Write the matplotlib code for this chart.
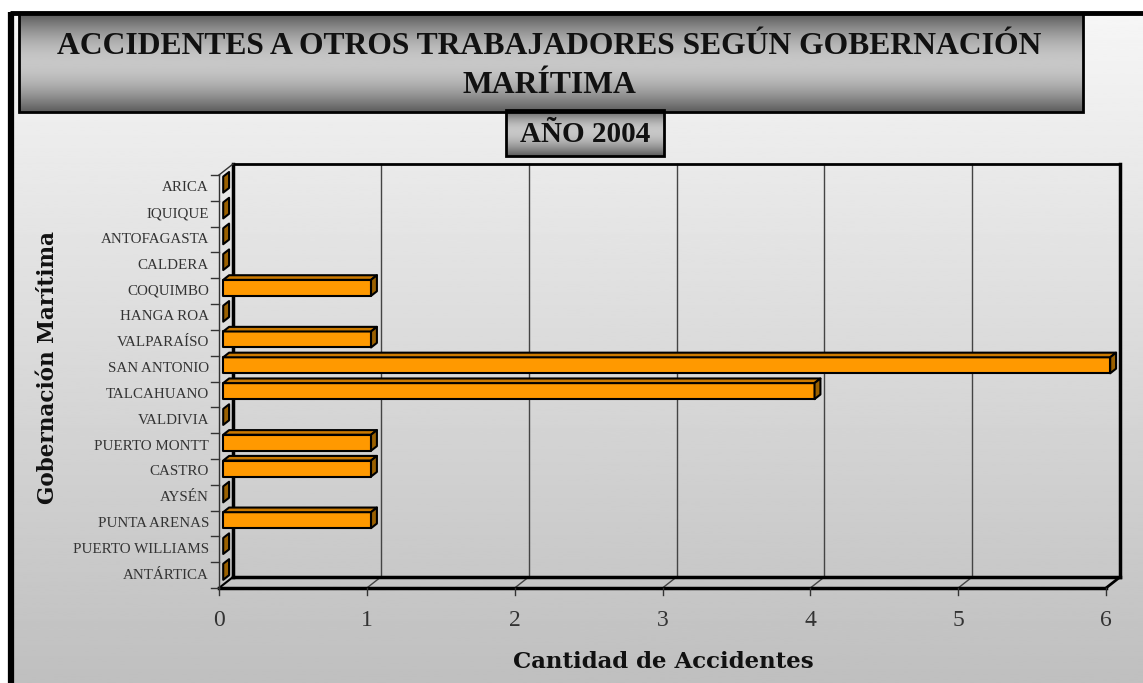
import numpy as np
import matplotlib
matplotlib.use("Agg")
import matplotlib.pyplot as plt
from matplotlib.patches import Polygon, Rectangle

# data
gobernaciones = ["ARICA", "IQUIQUE", "ANTOFAGASTA", "CALDERA", "COQUIMBO", "HANGA ROA",
                 "VALPARAÍSO", "SAN ANTONIO", "TALCAHUANO", "VALDIVIA", "PUERTO MONTT",
                 "CASTRO", "AYSÉN", "PUNTA ARENAS", "PUERTO WILLIAMS", "ANTÁRTICA"]
accidentes = [0, 0, 0, 0, 1, 0, 1, 6, 4, 0, 1, 1, 0, 1, 0, 0]
x_ticks = [0, 1, 2, 3, 4, 5, 6]

title = "ACCIDENTES A OTROS TRABAJADORES SEGÚN GOBERNACIÓN\nMARÍTIMA"
subtitle = "AÑO 2004"

W, H = 1143, 683
fig = plt.figure(figsize=(W / 100, H / 100), dpi=100)

# background / decoration axes in pixel coords
bg = fig.add_axes([0, 0, 1, 1])
bg.set_xlim(0, W)
bg.set_ylim(H, 0)
bg.axis("off")

grad = np.linspace(0.965, 0.75, 256).reshape(-1, 1)
bg.imshow(grad, cmap="gray", vmin=0, vmax=1, extent=[10, W, H, 13], aspect="auto", zorder=0)
bg.plot([10, W], [13, 13], color="black", lw=3.5, zorder=1, solid_capstyle="butt")
bg.plot([11, 11], [12, H], color="black", lw=4.5, zorder=1, solid_capstyle="butt")


def shaded_box(x0, y0, x1, y1, peak=0.4):
    t = np.linspace(0, 1, 200)
    prof = np.where(t < peak, t / peak, (1 - t) / (1 - peak))
    vals = 0.36 + (0.78 - 0.36) * np.sin(prof * np.pi / 2)
    bg.imshow(vals.reshape(-1, 1), cmap="gray", vmin=0, vmax=1,
              extent=[x0, x1, y1, y0], aspect="auto", zorder=2)
    bg.add_patch(Rectangle((x0, y0), x1 - x0, y1 - y0, fill=False,
                           edgecolor="black", lw=2, zorder=3))


shaded_box(19, 14, 1083, 112, peak=0.5)
bg.text(549, 66, title, ha="center", va="center", fontsize=22.8, fontweight="bold",
        family="Liberation Serif", color="#111111", linespacing=1.45, zorder=4)

shaded_box(506, 110, 664, 156, peak=0.45)
bg.text(585, 134, subtitle, ha="center", va="center", fontsize=21, fontweight="bold",
        family="Liberation Serif", color="#111111", zorder=4)

# main axes = front plane of the 3d box
ax = fig.add_axes([219 / W, (H - 588) / H, 887 / W, 413 / H])
ax.set_xlim(0, 6)
ax.set_ylim(15.5, -0.5)
ax.axis("off")

DEPTH_X, DEPTH_Y = 14, 11  # px
ddx = DEPTH_X / (887 / 6)
ddy = DEPTH_Y / (413 / 16)


def P(x, y, f):
    return (x + f * ddx, y - f * ddy)


def seg(a, b, **kw):
    ax.plot([a[0], b[0]], [a[1], b[1]], clip_on=False, **kw)


ytop, ybot = -0.5, len(gobernaciones) - 0.5

# gridlines on back wall and floor
for x in x_ticks[1:-1]:
    seg(P(x, ytop, 1), P(x, ybot, 1), color="#444444", lw=1)
    seg(P(x, ybot, 0), P(x, ybot, 1), color="#444444", lw=1)

# box edges
seg(P(0, ytop, 1), P(6, ytop, 1), color="black", lw=2)
seg(P(6, ytop, 1), P(6, ybot, 1), color="black", lw=2.5)
seg(P(0, ytop, 1), P(0, ybot, 1), color="black", lw=2.5)
seg(P(0, ybot, 1), P(6, ybot, 1), color="black", lw=2.5)
seg(P(0, ybot, 0), P(6, ybot, 0), color="black", lw=2.5)
seg(P(6, ybot, 0), P(6, ybot, 1), color="black", lw=2)
seg(P(0, ybot, 0), P(0, ybot, 1), color="black", lw=1.5)
seg(P(0, ytop, 0), P(0, ytop, 1), color="#333333", lw=1)
seg(P(0, ytop, 0), P(0, ybot, 0), color="#333333", lw=1)

# ticks
tick_dx = 8 / (887 / 6)
tick_dy = 7 / (413 / 16)
for i in range(len(gobernaciones) + 1):
    yb = i - 0.5
    seg((0, yb), (-tick_dx, yb), color="#333333", lw=1)
for x in x_ticks:
    seg((x, ybot), (x, ybot + tick_dy), color="#333333", lw=1)
    ax.text(x, ybot + 1.25, str(x), ha="center", va="center", fontsize=17,
            family="Liberation Serif", color="#333333")

for i, name in enumerate(gobernaciones):
    ax.text(-10 / (887 / 6), i, name, ha="right", va="center", fontsize=10.8,
            family="Liberation Serif", color="#333333")

# bars
f0, f1 = 0.3, 0.72
bh = 0.31
for i, v in enumerate(accidentes):
    yt, yb = i - bh, i + bh
    kw = dict(edgecolor="black", lw=1.5, joinstyle="round", clip_on=False, zorder=5)
    if v > 0:
        ax.add_patch(Polygon([P(0, yb, f0), P(v, yb, f0), P(v, yt, f0), P(0, yt, f0)],
                             facecolor="#FF9900", **kw))
        ax.add_patch(Polygon([P(0, yt, f0), P(v, yt, f0), P(v, yt, f1), P(0, yt, f1)],
                             facecolor="#CC7A00", **kw))
    ax.add_patch(Polygon([P(v, yt, f0), P(v, yt, f1), P(v, yb, f1), P(v, yb, f0)],
                         facecolor="#9A6000", **kw))

# axis labels
fig.text(48 / W, 1 - 368 / H, "Gobernación Marítima", rotation=90, ha="center", va="center",
         fontsize=15.5, fontweight="bold", family="DejaVu Serif", color="#111111")
fig.text(663 / W, 1 - 662 / H, "Cantidad de Accidentes", ha="center", va="center",
         fontsize=16.5, fontweight="bold", family="DejaVu Serif", color="#111111")

fig.savefig("out.png", dpi=100)
